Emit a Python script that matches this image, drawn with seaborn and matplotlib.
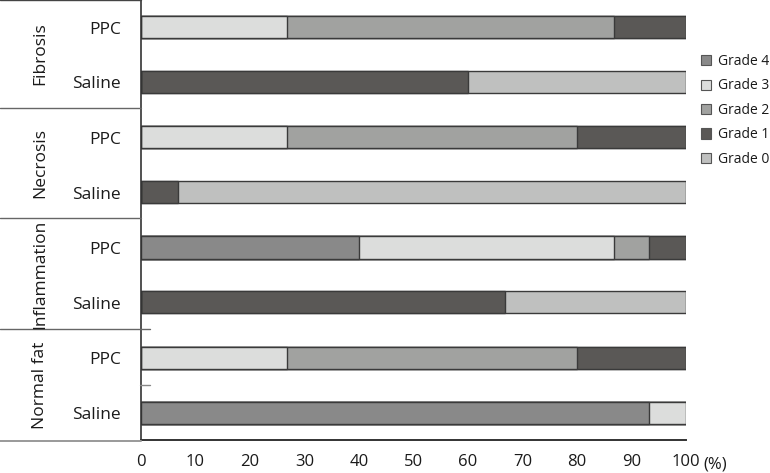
import matplotlib
matplotlib.use("Agg")
import matplotlib.pyplot as plt
from matplotlib.lines import Line2D
from matplotlib.patches import Patch
import pandas as pd
import seaborn as sns

# rows top to bottom
groups = ["Fibrosis", "Necrosis", "Inflammation", "Normal fat"]
treatments = ["PPC", "Saline"]
rows = [f"{g}|{t}" for g in groups for t in treatments]

# percent of animals per grade, stacked left -> right as Grade 4, 3, 2, 1, 0
grade4 = [0, 0, 0, 0, 40.0, 0, 0, 93.3]
grade3 = [26.7, 0, 26.7, 0, 46.7, 0, 26.7, 6.7]
grade2 = [60.0, 0, 53.3, 0, 6.6, 0, 53.3, 0]
grade1 = [13.3, 60.0, 20.0, 6.7, 6.7, 66.7, 20.0, 0]
grade0 = [0, 40.0, 0, 93.3, 0, 33.3, 0, 0]

grade_names = ["Grade 4", "Grade 3", "Grade 2", "Grade 1", "Grade 0"]
grade_colors = ["#898989", "#dcdddc", "#a1a2a0", "#5a5856", "#bfc0bf"]
x_ticks = [0, 10, 20, 30, 40, 50, 60, 70, 80, 90, 100]

df = pd.DataFrame({"row": rows, "Grade 4": grade4, "Grade 3": grade3,
                   "Grade 2": grade2, "Grade 1": grade1, "Grade 0": grade0})
cum = df[grade_names].cumsum(axis=1)
cum["row"] = rows

W, H = 770, 473
fig = plt.figure(figsize=(W / 100, H / 100), dpi=100)
sns.set_style("white")
plt.rcParams['font.family'] = ['Open Sans', 'DejaVu Sans']

ax = fig.add_axes([141 / W, (H - 440) / H, (686 - 141) / W, 440 / H])

# draw cumulative widths from the right-most grade down, so each sits on top
for name, color in reversed(list(zip(grade_names, grade_colors))):
    sns.barplot(data=cum, x=name, y="row", orient="h",
                color=color, width=0.4, edgecolor="#3a3a3a", linewidth=1.0,
                saturation=1, ax=ax)

ax.set_xlim(0, 100)
ax.set_ylim(7.5, -0.5)
ax.set_xlabel("")
ax.set_ylabel("")
ax.set_xticks(x_ticks)
ax.set_xticklabels([str(t) for t in x_ticks], fontsize=12, color="#1a1a1a")
ax.tick_params(axis="x", direction="in", length=8, width=1, color="#555555", pad=10)
fig.text(703 / W, 1 - 468 / H, "(%)", fontsize=12, color="#1a1a1a",
         ha="left", va="baseline")
ax.set_yticks(range(len(rows)))
ax.set_yticklabels(treatments * len(groups), fontsize=12.5, color="#1a1a1a")
ax.tick_params(axis="y", length=0, pad=14.5)
for s in ["top", "right"]:
    ax.spines[s].set_visible(False)
ax.spines["left"].set_color("#333333")
ax.spines["bottom"].set_color("#333333")
ax.spines["left"].set_linewidth(1.2)
ax.spines["bottom"].set_linewidth(1.4)


def hline(y, x0, x1, color="#666666", lw=1.0):
    fig.add_artist(Line2D([x0 / W, x1 / W], [1 - y / H, 1 - y / H],
                          color=color, lw=lw, transform=fig.transFigure))


# left side group table
hline(0.5, 0, 141, "#444444")
for y in [108, 218]:
    hline(y, 0, 141)
hline(329, 0, 150)
hline(385, 140, 150, "#888888")
hline(440.5, 0, 141, "#999999", 1.4)

group_centers = [54, 163, 274, 385]
for g, yc in zip(groups, group_centers):
    fig.text(40 / W, 1 - yc / H, g, rotation=90, ha="center", va="center",
             fontsize=12.5, color="#1a1a1a")

handles = [Patch(facecolor=c, edgecolor="#555555", linewidth=0.8, label=n)
           for n, c in zip(grade_names, grade_colors)]
fig.legend(handles=handles, loc="upper left", bbox_to_anchor=(701 / W, 1 - 54 / H),
           frameon=False, fontsize=10, handlelength=0.75, handleheight=0.75,
           handletextpad=0.45, labelspacing=0.68, borderaxespad=0, borderpad=0,
           labelcolor="#1a1a1a")

fig.savefig("out.png", dpi=100)
